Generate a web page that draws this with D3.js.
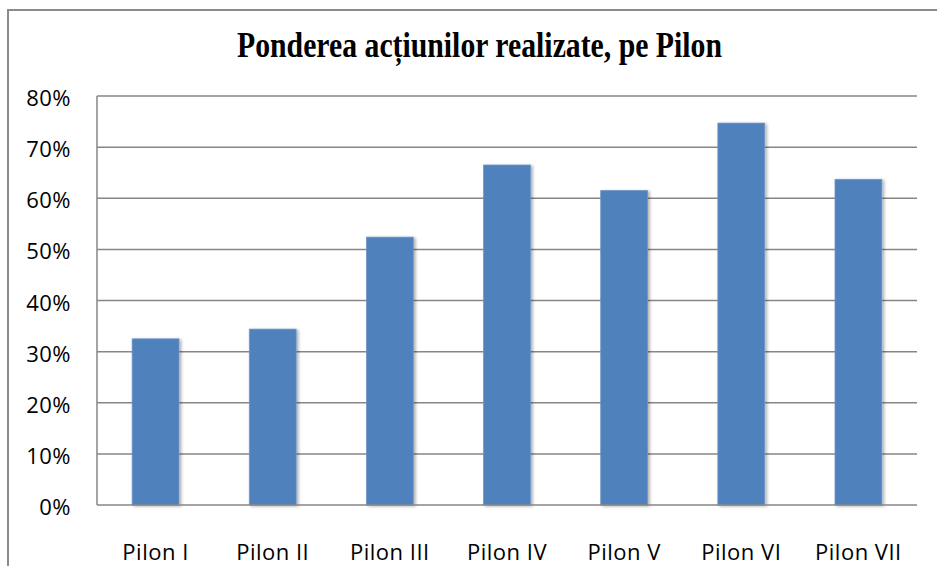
<!DOCTYPE html>
<html>
<head>
<meta charset="utf-8">
<script src="https://cdn.jsdelivr.net/npm/d3@7"></script>
<style>
  body { margin: 0; background: #fff; }
  svg { display: block; }
</style>
</head>
<body>
<svg id="chart" width="937" height="566"></svg>
<script>
// data
const categories = ["Pilon I", "Pilon II", "Pilon III", "Pilon IV", "Pilon V", "Pilon VI", "Pilon VII"];
const shares = [0.325, 0.344, 0.524, 0.665, 0.615, 0.747, 0.637];
const yTicks = [0, 0.1, 0.2, 0.3, 0.4, 0.5, 0.6, 0.7, 0.8];
const title = "Ponderea acțiunilor realizate, pe Pilon";

const svg = d3.select("#chart");
const plot = { left: 97, right: 917, top: 96, bottom: 505 };
const labelFont = "'Open Sans', 'Noto Sans', sans-serif";

// outer frame (cropped on right and bottom)
svg.append("rect")
  .attr("x", 8).attr("y", 10)
  .attr("width", 1000).attr("height", 1000)
  .attr("fill", "none")
  .attr("stroke", "#8c8c8c")
  .attr("stroke-width", 2);

// soft shadow for the bars
const defs = svg.append("defs");
const f = defs.append("filter").attr("id", "shadow")
  .attr("x", "-20%").attr("y", "-10%").attr("width", "150%").attr("height", "120%");
f.append("feDropShadow")
  .attr("dx", 2).attr("dy", 1).attr("stdDeviation", 1.5)
  .attr("flood-color", "#000").attr("flood-opacity", 0.3);

const x = d3.scaleBand()
  .domain(categories)
  .range([plot.left, plot.right])
  .paddingInner(0.6)
  .paddingOuter(0.3);

const y = d3.scaleLinear()
  .domain([0, 0.8])
  .range([plot.bottom, plot.top]);

// gridlines
svg.append("g")
  .selectAll("line")
  .data(yTicks.filter(d => d > 0))
  .join("line")
  .attr("x1", plot.left).attr("x2", plot.right)
  .attr("y1", d => y(d)).attr("y2", d => y(d))
  .attr("stroke", "#868686")
  .attr("stroke-width", 1.5);

// bars
svg.append("g")
  .selectAll("rect")
  .data(shares)
  .join("rect")
  .attr("x", (d, i) => x(categories[i]))
  .attr("y", d => y(d))
  .attr("width", x.bandwidth())
  .attr("height", d => y(0) - y(d))
  .attr("fill", "#4f81bd")
  .attr("stroke", "#6f97c9")
  .attr("stroke-width", 0.8)
  .attr("filter", "url(#shadow)");

// axes lines
svg.append("line")
  .attr("x1", plot.left).attr("x2", plot.left)
  .attr("y1", plot.top).attr("y2", plot.bottom)
  .attr("stroke", "#868686").attr("stroke-width", 1.5);
svg.append("line")
  .attr("x1", plot.left).attr("x2", plot.right)
  .attr("y1", plot.bottom).attr("y2", plot.bottom)
  .attr("stroke", "#868686").attr("stroke-width", 1.5);

// y labels
svg.append("g")
  .selectAll("text")
  .data(yTicks)
  .join("text")
  .attr("x", 71)
  .attr("y", d => y(d) + 10)
  .attr("text-anchor", "end")
  .attr("font-family", labelFont)
  .attr("font-size", 22)
  .attr("letter-spacing", 0.5)
  .attr("fill", "#000")
  .text(d3.format(".0%"));

// x labels
const xc = d => x(d) + x.bandwidth() / 2;
svg.append("g")
  .selectAll("text")
  .data(categories)
  .join("text")
  .attr("x", d => xc(d))
  .attr("y", 560)
  .attr("text-anchor", "middle")
  .attr("font-family", labelFont)
  .attr("font-size", 22)
  .attr("letter-spacing", 0.5)
  .attr("fill", "#000")
  .text(d => d);

// title - condensed bold serif
svg.append("text")
  .attr("x", 237)
  .attr("y", 57)
  .attr("textLength", 485)
  .attr("lengthAdjust", "spacingAndGlyphs")
  .attr("font-family", "'Liberation Serif', 'DejaVu Serif', serif")
  .attr("font-weight", "bold")
  .attr("font-size", 35)
  .attr("fill", "#000")
  .text(title);
</script>
</body>
</html>
